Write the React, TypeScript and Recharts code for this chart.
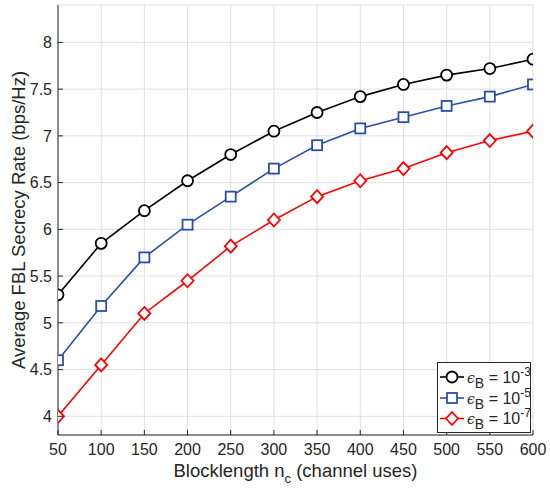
import React from 'react';
import { LineChart, Line, XAxis, YAxis, CartesianGrid, Legend } from 'recharts';

const blocklengths = [50, 100, 150, 200, 250, 300, 350, 400, 450, 500, 550, 600];
const rateE3 = [5.3, 5.85, 6.2, 6.52, 6.8, 7.05, 7.25, 7.42, 7.55, 7.65, 7.72, 7.82];
const rateE5 = [4.6, 5.18, 5.7, 6.05, 6.35, 6.65, 6.9, 7.08, 7.2, 7.32, 7.42, 7.55];
const rateE7 = [4.0, 4.55, 5.1, 5.45, 5.82, 6.1, 6.35, 6.52, 6.65, 6.82, 6.95, 7.05];
const xTicks = [50, 100, 150, 200, 250, 300, 350, 400, 450, 500, 550, 600];
const yTicks = [4, 4.5, 5, 5.5, 6, 6.5, 7, 7.5, 8];
const yDomain = [3.8, 8.4];
const xDomain = [50, 600];
const seriesKeys = ['e3', 'e5', 'e7'];
const seriesExps = ['-3', '-5', '-7'];
const seriesColors = ['#000000', '#2b4fa6', '#ff0000'];
const seriesMarkers = ['circle', 'square', 'diamond'];

const data = blocklengths.map((n, i) => ({ n, e3: rateE3[i], e5: rateE5[i], e7: rateE7[i] }));

const FONT = '"Liberation Sans", Arial, Helvetica, sans-serif';
const AXIS = '#262626';
const TICK_LEN = 5;
const TICK_FONT = 16;
const LABEL_FONT = 18.5;

function Marker({ kind, cx, cy, color }: { kind: string; cx: number; cy: number; color: string }) {
  if (cx == null || cy == null) return null;
  if (kind === 'circle') {
    return <circle cx={cx} cy={cy} r={5.5} fill="#ffffff" stroke={color} strokeWidth={1.8} />;
  }
  if (kind === 'square') {
    return <rect x={cx - 5} y={cy - 5} width={10} height={10} fill="#ffffff" stroke={color} strokeWidth={1.8} />;
  }
  return (
    <polygon
      points={`${cx},${cy - 6.5} ${cx + 6},${cy} ${cx},${cy + 6.5} ${cx - 6},${cy}`}
      fill="#ffffff"
      stroke={color}
      strokeWidth={1.8}
    />
  );
}

const BottomTick = (props: any) => {
  const { x, y, payload } = props;
  return (
    <g>
      <line x1={x} x2={x} y1={y - 9} y2={y - 9 - TICK_LEN} stroke={AXIS} strokeWidth={1} />
      <text x={x} y={y} dy="0.71em" textAnchor="middle" fill={AXIS} fontSize={TICK_FONT} fontFamily={FONT}>
        {payload.value}
      </text>
    </g>
  );
};

const LeftTick = (props: any) => {
  const { x, y, payload } = props;
  return (
    <g>
      <line x1={x + 6} x2={x + 6 + TICK_LEN} y1={y} y2={y} stroke={AXIS} strokeWidth={1} />
      <text x={x} y={y} dy="0.355em" textAnchor="end" fill={AXIS} fontSize={TICK_FONT} fontFamily={FONT}>
        {payload.value}
      </text>
    </g>
  );
};

const TopTick = (props: any) => {
  const { x, y } = props;
  return <line x1={x} x2={x} y1={y} y2={y + TICK_LEN} stroke={AXIS} strokeWidth={1} />;
};

const RightTick = (props: any) => {
  const { x, y } = props;
  return <line x1={x} x2={x - TICK_LEN} y1={y} y2={y} stroke={AXIS} strokeWidth={1} />;
};

const XLabel = (props: any) => {
  const vb = props.viewBox || {};
  const cx = vb.x + vb.width / 2;
  return (
    <text x={cx} y={vb.y + 42} textAnchor="middle" fill={AXIS} fontSize={LABEL_FONT} fontFamily={FONT}>
      <tspan>Blocklength n</tspan>
      <tspan dy={6} fontSize={13}>c</tspan>
      <tspan dy={-6}> (channel uses)</tspan>
    </text>
  );
};

const YLabel = (props: any) => {
  const vb = props.viewBox || {};
  const cy = vb.y + vb.height / 2;
  const bx = 25;
  return (
    <text
      x={bx}
      y={cy}
      transform={`rotate(-90, ${bx}, ${cy})`}
      textAnchor="middle"
      fill={AXIS}
      fontSize={LABEL_FONT}
      fontFamily={FONT}
    >
      Average FBL Secrecy Rate (bps/Hz)
    </text>
  );
};

const LegendBox = () => {
  const w = 93;
  const h = 70;
  const rows = [15, 36, 56.5];
  return (
    <svg width={w + 1} height={h + 1} style={{ display: 'block' }}>
      <rect x={0.5} y={0.5} width={w} height={h} fill="#ffffff" stroke={AXIS} strokeWidth={1} />
      {seriesKeys.map((k, i) => (
        <g key={k}>
          <line x1={3} x2={27} y1={rows[i]} y2={rows[i]} stroke={seriesColors[i]} strokeWidth={1.6} />
          <Marker kind={seriesMarkers[i]} cx={15} cy={rows[i]} color={seriesColors[i]} />
          <text x={30} y={rows[i] + 5.5} fill={AXIS} fontSize={16} fontFamily={FONT}>
            <tspan fontFamily={'"DejaVu Serif", serif'} fontStyle="italic" fontSize={14}>ϵ</tspan>
            <tspan dy={5} fontSize={14}>B</tspan>
            <tspan dy={-5}> = 10</tspan>
            <tspan dy={-7} fontSize={12}>{seriesExps[i]}</tspan>
          </text>
        </g>
      ))}
    </svg>
  );
};

export default function App() {
  return (
    <div style={{ position: 'absolute', left: 0, top: 0, width: 550, height: 490, background: '#ffffff' }}>
      <LineChart width={550} height={490} data={data} margin={{ top: 5, right: 17, bottom: 0, left: 0 }}>
        <CartesianGrid stroke="#dfdfdf" strokeWidth={1} />
        <XAxis
          dataKey="n"
          type="number"
          domain={xDomain}
          ticks={xTicks}
          height={55}
          tickSize={0}
          tickMargin={9}
          axisLine={{ stroke: AXIS, strokeWidth: 1 }}
          tickLine={false}
          tick={BottomTick}
          interval={0}
          allowDataOverflow
          label={XLabel}
        />
        <XAxis
          xAxisId="top"
          orientation="top"
          dataKey="n"
          type="number"
          domain={xDomain}
          ticks={xTicks}
          height={0}
          tickSize={0}
          tickMargin={0}
          axisLine={{ stroke: AXIS, strokeWidth: 1 }}
          tickLine={false}
          tick={TopTick}
          interval={0}
          allowDataOverflow
        />
        <YAxis
          type="number"
          domain={yDomain}
          ticks={yTicks}
          width={58}
          tickSize={0}
          tickMargin={6}
          axisLine={{ stroke: AXIS, strokeWidth: 1 }}
          tickLine={false}
          tick={LeftTick}
          interval={0}
          allowDataOverflow
          label={YLabel}
        />
        <YAxis
          yAxisId="right"
          orientation="right"
          type="number"
          domain={yDomain}
          ticks={yTicks}
          width={0}
          tickSize={0}
          tickMargin={0}
          axisLine={{ stroke: AXIS, strokeWidth: 1 }}
          tickLine={false}
          tick={RightTick}
          interval={0}
          allowDataOverflow
        />
        {seriesKeys.map((k, i) => (
          <Line
            key={k}
            dataKey={k}
            type="linear"
            stroke={seriesColors[i]}
            strokeWidth={1.6}
            isAnimationActive={false}
            dot={(p: any) => (
              <Marker key={`${k}-${p.index}`} kind={seriesMarkers[i]} cx={p.cx} cy={p.cy} color={seriesColors[i]} />
            )}
            activeDot={false}
          />
        ))}
        <Legend
          layout="horizontal"
          align="center"
          verticalAlign="middle"
          content={LegendBox}
          wrapperStyle={{ position: 'absolute', left: 437, top: 362, width: 94, height: 71, margin: 0, padding: 0 }}
        />
      </LineChart>
    </div>
  );
}
